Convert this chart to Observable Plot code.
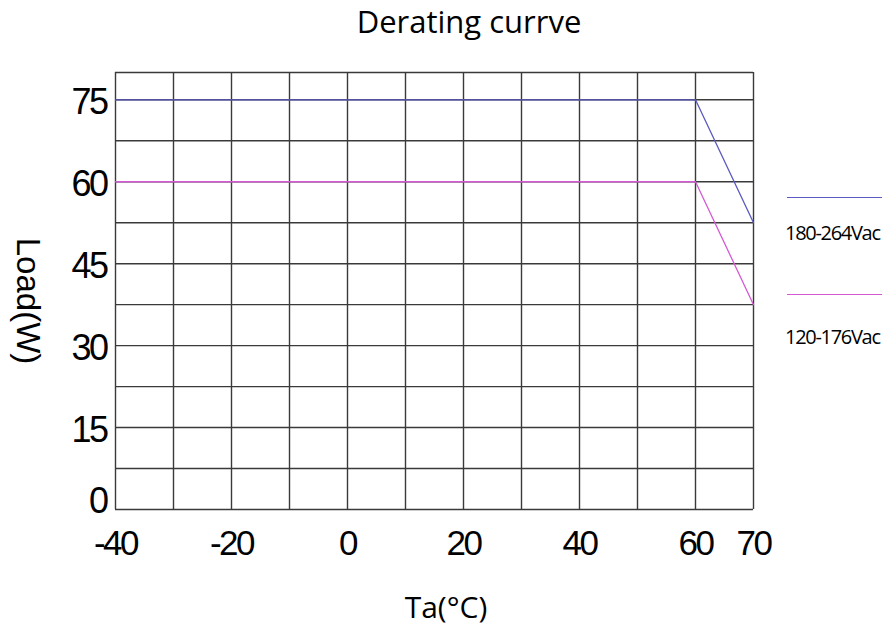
<!DOCTYPE html>
<html>
<head>
<meta charset="utf-8">
<script src="https://cdn.jsdelivr.net/npm/d3@7"></script>
<script src="https://cdn.jsdelivr.net/npm/@observablehq/plot@0.6"></script>
<style>
  html, body { margin: 0; padding: 0; background: #fff; }
  #wrap { position: relative; width: 891px; height: 630px; overflow: hidden; }
  #wrap svg { position: absolute; left: 0; top: 0; }
  .lbl { position: absolute; white-space: nowrap; color: #000; line-height: 1; }
  #title { left: 0; width: 938px; top: 0px; text-align: center; font: 31px "Open Sans", "Noto Sans", sans-serif; }
  #xlabel { left: 0; width: 892px; top: 586px; text-align: center; font: 30px "Open Sans", "Noto Sans", sans-serif; }
  #ylabel { left: 28px; top: 301px; transform: translate(-50%, -50%) rotate(90deg); font: 33px "Liberation Sans", Arial, sans-serif; }
  .legline { position: absolute; height: 0; width: 95px; left: 787px; border-top: 1.3px solid; }
  .legtext { position: absolute; left: 785px; font: 20px "Open Sans", "Noto Sans", sans-serif; letter-spacing: -1.3px; }
  .tick-narrow text { letter-spacing: -2.5px; }
</style>
</head>
<body>
<div id="wrap">
  <div id="title" class="lbl">Derating currve</div>
  <div id="xlabel" class="lbl">Ta(°C)</div>
  <div id="ylabel" class="lbl">Load(W)</div>
  <div id="leg"></div>
</div>
<script>
// Data
const temperature = [-40, 60, 70];
const load180_264 = [75, 75, 52.5];
const load120_176 = [60, 60, 37.5];
const seriesNames = ["180-264Vac", "120-176Vac"];
const seriesColors = ["#5a5ac0", "#d45ad4"];
const xTickValues = [-40, -20, 0, 20, 40, 60, 70];
const yTickValues = [15, 30, 45, 60, 75];
const yZeroTick = [0];
const xGridValues = [-40, -30, -20, -10, 0, 10, 20, 30, 40, 50, 60, 70];
const yGridValues = [0, 7.5, 15, 22.5, 30, 37.5, 45, 52.5, 60, 67.5, 75, 80];

const rows = [];
temperature.forEach((t, i) => {
  rows.push({series: seriesNames[0], t, load: load180_264[i]});
  rows.push({series: seriesNames[1], t, load: load120_176[i]});
});

const chart = Plot.plot({
  width: 891,
  height: 630,
  marginLeft: 115,
  marginRight: 138,
  marginTop: 72,
  marginBottom: 121,
  style: {background: "#fff", fontFamily: "Liberation Sans, Arial, sans-serif", color: "#000"},
  x: {domain: [-40, 70]},
  y: {domain: [0, 80]},
  color: {domain: seriesNames, range: seriesColors},
  marks: [
    Plot.ruleX(xGridValues, {stroke: "#3a3a3a", strokeWidth: 1.4}),
    Plot.ruleY(yGridValues, {stroke: "#3a3a3a", strokeWidth: 1.4}),
    Plot.line(rows, {x: "t", y: "load", z: "series", stroke: "series", strokeWidth: 1.3}),
    Plot.axisX({ticks: xTickValues, tickFormat: d => String(d), tickSize: 0, tickPadding: 21, fontSize: 35, label: null, className: "tick-narrow"}),
    Plot.axisY({ticks: yTickValues, tickFormat: d => String(d), tickSize: 0, tickPadding: 9, dy: 3, fontSize: 36, label: null, className: "tick-narrow"}),
    Plot.axisY({ticks: yZeroTick, tickFormat: d => String(d), tickSize: 0, tickPadding: 9, dy: -8, fontSize: 36, label: null, className: "tick-narrow"})
  ]
});
document.getElementById("wrap").prepend(chart);

// Legend (HTML)
const leg = document.getElementById("leg");
const legLineTops = [197, 294];
const legTextTops = [219, 323];
seriesNames.forEach((name, i) => {
  const ln = document.createElement("div");
  ln.className = "legline";
  ln.style.top = legLineTops[i] + "px";
  ln.style.borderColor = seriesColors[i];
  leg.appendChild(ln);
  const tx = document.createElement("div");
  tx.className = "legtext lbl";
  tx.style.top = legTextTops[i] + "px";
  tx.textContent = name;
  leg.appendChild(tx);
});
</script>
</body>
</html>
